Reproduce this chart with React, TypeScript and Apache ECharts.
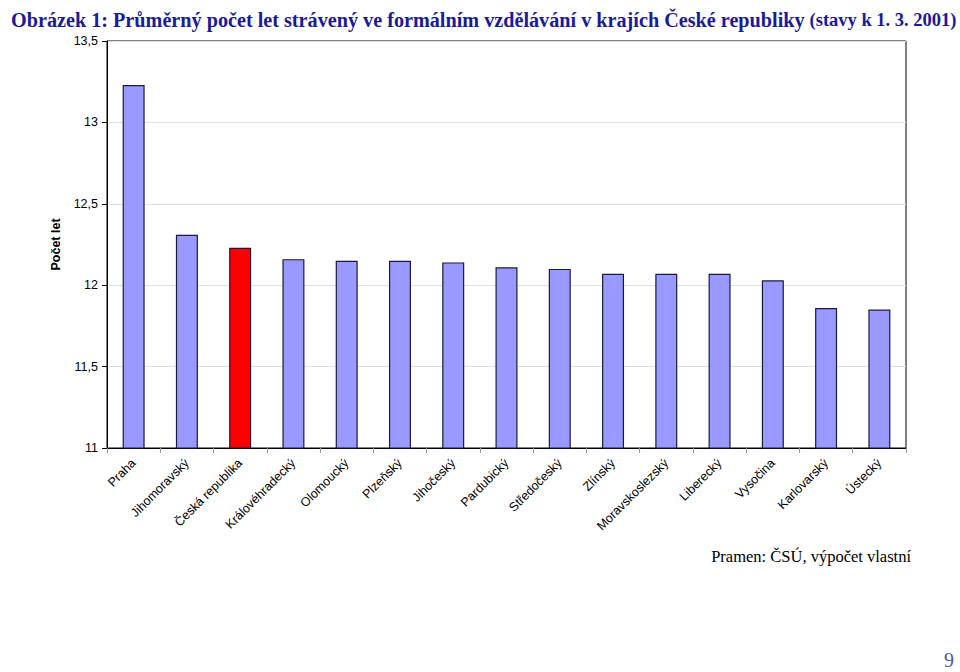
import React, { useEffect, useRef } from "react";
import * as echarts from "echarts";

const categories = [
  "Praha",
  "Jihomoravský",
  "Česká republika",
  "Královéhradecký",
  "Olomoucký",
  "Plzeňský",
  "Jihočeský",
  "Pardubický",
  "Středočeský",
  "Zlínský",
  "Moravskoslezský",
  "Liberecký",
  "Vysočina",
  "Karlovarský",
  "Ústecký",
];
const values = [13.23, 12.31, 12.23, 12.16, 12.15, 12.15, 12.14, 12.11, 12.1, 12.07, 12.07, 12.07, 12.03, 11.86, 11.85];
const highlighted = "Česká republika";
const yMin = 11;
const yMax = 13.5;
const yStep = 0.5;

const titleMain = "Obrázek 1: Průměrný počet let strávený ve formálním vzdělávání v krajích České republiky";
const titleSub = "(stavy k 1. 3. 2001)";
const yName = "Počet let";
const sourceText = "Pramen: ČSÚ, výpočet vlastní";
const pageNumber = "9";

export default function App() {
  const ref = useRef<HTMLDivElement>(null);
  useEffect(() => {
    if (!ref.current) return;
    const chart = echarts.init(ref.current, undefined, { renderer: "svg" });
    chart.setOption({
      animation: false,
      backgroundColor: "#ffffff",
      title: {
        left: 6,
        top: 5,
        text: `{a|${titleMain}} {b|${titleSub}}`,
        textStyle: {
          rich: {
            a: { fontFamily: "Liberation Serif", fontWeight: "bold", fontSize: 20.2, color: "#1a1a9a" },
            b: { fontFamily: "Liberation Serif", fontWeight: "bold", fontSize: 18.5, color: "#1a1a9a" },
          },
        },
      },
      grid: { left: 107, right: 54, top: 41, bottom: 224, show: true, borderColor: "#000", borderWidth: 1 },
      xAxis: {
        type: "category",
        data: categories,
        axisLine: { lineStyle: { color: "#000", width: 1 } },
        axisTick: { show: true, length: 5, lineStyle: { color: "#999" } },
        axisLabel: {
          rotate: 45,
          interval: 0,
          fontFamily: "Liberation Sans",
          fontSize: 12.5,
          color: "#000",
          margin: 13,
        },
      },
      yAxis: {
        type: "value",
        min: yMin,
        max: yMax,
        interval: yStep,
        name: yName,
        nameLocation: "middle",
        nameGap: 37,
        nameTextStyle: { fontFamily: "Liberation Sans", fontWeight: "bold", fontSize: 12.5, color: "#000" },
        axisLine: { show: true, lineStyle: { color: "#000", width: 1 } },
        axisTick: { show: true, length: 5, lineStyle: { color: "#000" } },
        axisLabel: {
          fontFamily: "Liberation Sans",
          fontSize: 12.5,
          color: "#000",
          margin: 9,
          formatter: (v: number) => String(v).replace(".", ","),
        },
        splitLine: { lineStyle: { color: "#e0e0e0", width: 1 } },
      },
      series: [
        {
          type: "bar",
          barWidth: 22,
          data: values.map((v, i) => ({
            value: v,
            itemStyle: { color: categories[i] === highlighted ? "#ff0000" : "#9999ff" },
          })),
          itemStyle: { borderColor: "#1a1a40", borderWidth: 1.2 },
        },
      ],
      graphic: [
        {
          type: "text",
          right: 49,
          top: 548,
          style: { text: sourceText, font: "16.5px 'Liberation Serif'", fill: "#000" },
        },
        {
          type: "text",
          right: 6,
          top: 650,
          style: { text: pageNumber, font: "20px 'Liberation Serif'", fill: "#4a5ab0" },
        },
      ],
    });
    return () => chart.dispose();
  }, []);
  return (
    <div
      ref={ref}
      style={{ position: "fixed", left: 0, top: 0, width: 960, height: 672, background: "#fff" }}
    />
  );
}
